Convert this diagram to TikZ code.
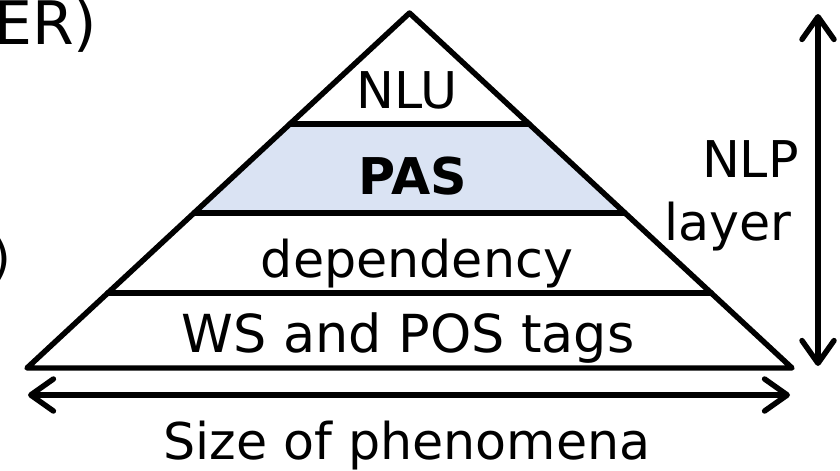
\documentclass[tikz,border=0pt]{standalone}
\usepackage{fontspec}
\setmainfont{DejaVu Sans}
\usetikzlibrary{calc,arrows.meta}
\definecolor{pasfill}{HTML}{DAE3F3}
\tikzset{
  edge/.style={line width=4.1pt, line join=round, line cap=round},
  barb/.tip={Straight Barb[length=17pt,width=24pt,line cap=round,line join=round]},
  dblarrow/.style={line width=4.1pt, line cap=round, barb-barb},
  lbl/.style={inner sep=0pt, font=\fontsize{38}{46}\selectfont},
}
\begin{document}
\begin{tikzpicture}[x=0.75pt,y=-0.75pt]
  \useasboundingbox (0,0) rectangle (840,471);
  \clip (0,0) rectangle (840,471);

  % pyramid corners
  \coordinate (A) at (409.5,13);
  \coordinate (B) at (27,368);
  \coordinate (C) at (792,368);

  % layer boundaries along the two sides
  \coordinate (L1) at ($(B)!0.211!(A)$);
  \coordinate (R1) at ($(C)!0.211!(A)$);
  \coordinate (L2) at ($(B)!0.437!(A)$);
  \coordinate (R2) at ($(C)!0.437!(A)$);
  \coordinate (L3) at ($(B)!0.687!(A)$);
  \coordinate (R3) at ($(C)!0.687!(A)$);

  % shaded PAS band
  \fill[pasfill] (L2) -- (R2) -- (R3) -- (L3) -- cycle;

  % outline and layer separators
  \draw[edge] (A) -- (B) -- (C) -- cycle;
  \draw[edge] (L1) -- (R1);
  \draw[edge] (L2) -- (R2);
  \draw[edge] (L3) -- (R3);

  % layer names
  \node[lbl, anchor=base] (nlu) at (407,108) {NLU};
  \node[lbl, anchor=base, font=\fontsize{38}{46}\selectfont\bfseries] (pas) at (413,194) {PAS};
  \node[lbl, anchor=base] (dep) at (417,277) {dependency};
  \node[lbl, anchor=base, font=\fontsize{39.3}{46}\selectfont] (ws) at (408,352) {WS and POS tags};

  % axes
  \coordinate (vtop) at (818,14);
  \coordinate (vbot) at (818,366);
  \draw[dblarrow] (vbot) -- (vtop);
  \coordinate (hleft) at (28,395);
  \coordinate (hright) at (790,395);
  \draw[dblarrow] (hleft) -- (hright);

  \node[lbl, anchor=base east] (nlp) at (799,177) {NLP};
  \node[lbl, anchor=base east] (layer) at (792,240) {layer};
  \node[lbl, anchor=base] (size) at (407,459) {Size of phenomena};

  % neighbouring labels cut by the frame
  \node[lbl, anchor=base west, font=\fontsize{45}{52}\selectfont] (er) at (-6,44) {ER)};
  \node[lbl, anchor=base east] (paren) at (12,275) {)};
\end{tikzpicture}
\end{document}
